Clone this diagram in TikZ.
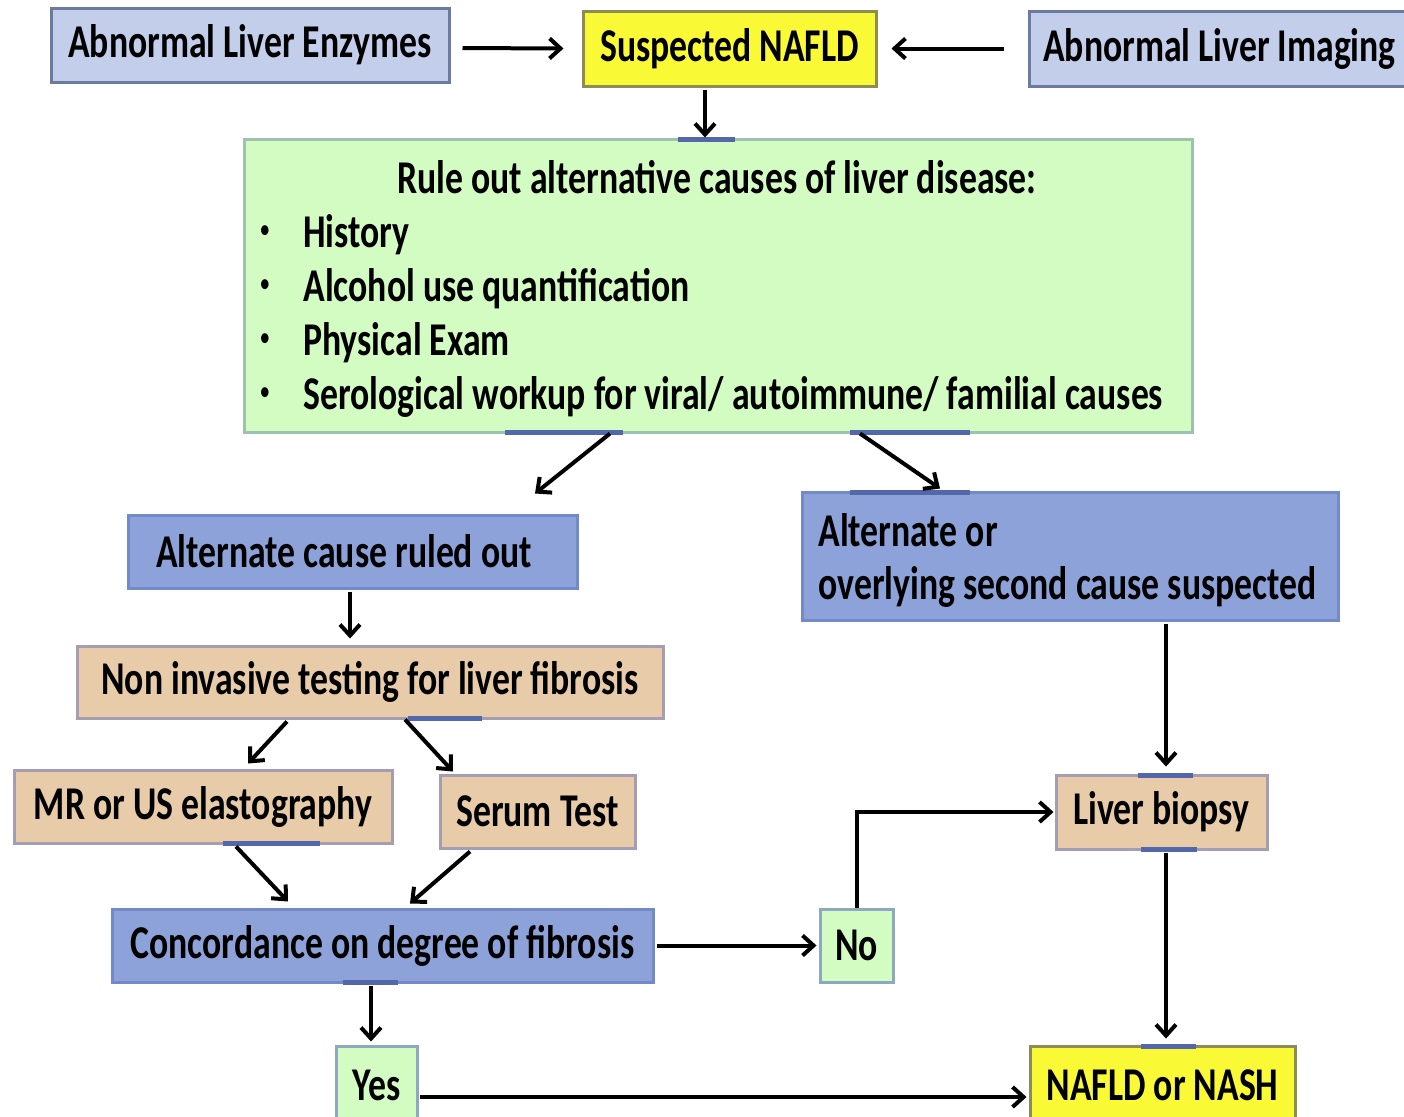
\documentclass[tikz,border=0pt]{standalone}
\usepackage{fontspec}
\setmainfont[FakeStretch=0.76]{Carlito}
\usetikzlibrary{arrows.meta,calc}
\definecolor{lbfill}{HTML}{C3CEEB}
\definecolor{lbdraw}{HTML}{6B7AA1}
\definecolor{yfill}{HTML}{F9F935}
\definecolor{ydraw}{HTML}{8C8C55}
\definecolor{gfill}{HTML}{D3FCC2}
\definecolor{gdraw}{HTML}{9DC2AE}
\definecolor{mbfill}{HTML}{8DA2D9}
\definecolor{mbdraw}{HTML}{7489C8}
\definecolor{tfill}{HTML}{E8CBA8}
\definecolor{tdraw}{HTML}{A59DB2}
\definecolor{ndraw}{HTML}{8FA8C2}
\definecolor{markblue}{HTML}{5367AA}
\begin{document}
\begin{tikzpicture}[x=0.5pt,y=-0.5pt,
  txt/.style={font=\fontsize{23.5}{28}\selectfont\bfseries, text=black},
  box/.style={draw, line width=1.5pt, inner sep=0pt, txt},
  lightblue/.style={box, fill=lbfill, draw=lbdraw},
  yellowbox/.style={box, fill=yfill, draw=ydraw},
  greenbox/.style={box, fill=gfill, draw=gdraw},
  smallgreen/.style={box, fill=gfill, draw=ndraw},
  bluebox/.style={box, fill=mbfill, draw=mbdraw},
  tanbox/.style={box, fill=tfill, draw=tdraw},
  plain/.style={txt, inner sep=0pt},
  bulletsty/.style={plain, font=\fontsize{14}{15}\selectfont},
  arr/.style={line width=2pt, black, -{Straight Barb[length=5.5pt,width=10pt,line width=2pt]}},
  mk/.style={line width=2.5pt, markblue}
]
\useasboundingbox (0,0) rectangle (1404,1116);
\clip (0,0) rectangle (1404,1116);
\fill[white] (0,0) rectangle (1404,1116);

% nodes
\node[lightblue, minimum width=199pt, minimum height=37pt] (enz) at (250,45) {Abnormal Liver Enzymes};
\node[yellowbox, minimum width=146.5pt, minimum height=37.5pt] (nafld) at (729.5,48.5) {Suspected NAFLD};
\node[lightblue, minimum width=190.5pt, minimum height=37.5pt] (img) at (1219.5,48.5) {Abnormal Liver Imaging};

\node[greenbox, minimum width=474pt, minimum height=146.5pt] (rule) at (718,285.5) {};
\node[plain, anchor=base] (ruletitle) at (717,193) {Rule out alternative causes of liver disease:};
\node[bulletsty] (bu1) at (265,232) {\textbullet};
\node[bulletsty] (bu2) at (265,286) {\textbullet};
\node[bulletsty] (bu3) at (265,340) {\textbullet};
\node[bulletsty] (bu4) at (265,394) {\textbullet};
\node[plain, anchor=base west] (l1) at (303,247) {History};
\node[plain, anchor=base west] (l2) at (303,301) {Alcohol use quantification};
\node[plain, anchor=base west] (l3) at (303,355) {Physical Exam};
\node[plain, anchor=base west] (l4) at (303,409) {Serological workup for viral/ autoimmune/ familial causes};

\node[bluebox, minimum width=224.5pt, minimum height=36.5pt] (ruled) at (352.5,551.5) {};
\node[plain] (ruledtxt) at (344,551.5) {Alternate cause ruled out};
\node[bluebox, minimum width=268pt, minimum height=64pt] (over) at (1070,556) {};
\node[plain, anchor=base west] (o1) at (818,546) {Alternate or};
\node[plain, anchor=base west] (o2) at (818,599) {overlying second cause suspected};

\node[tanbox, minimum width=293pt, minimum height=36pt] (nit) at (370,682) {Non invasive testing for liver fibrosis};
\node[tanbox, minimum width=189pt, minimum height=36.5pt] (mr) at (203,806.5) {MR or US elastography};
\node[tanbox, minimum width=97.5pt, minimum height=36.5pt] (serum) at (537.5,811.5) {Serum Test};
\node[bluebox, minimum width=270.5pt, minimum height=36.5pt] (conc) at (382.5,945.5) {Concordance on degree of fibrosis};
\node[smallgreen, minimum width=36.5pt, minimum height=36.5pt] (no) at (856.5,945.5) {No};
\node[tanbox, minimum width=105.5pt, minimum height=37pt] (bio) at (1161.5,812) {Liver biopsy};
\node[smallgreen, minimum width=40.5pt, minimum height=39pt] (yes) at (376.5,1085) {Yes};
\node[yellowbox, minimum width=132.5pt, minimum height=39pt] (nash) at (1162.5,1085) {NAFLD or NASH};

% blue marks on borders
\draw[mk] (678,139) -- (735,139);
\draw[mk] (505,432) -- (623,432);
\draw[mk] (850,432) -- (970,432);
\draw[mk] (850,492) -- (970,492);
\draw[mk] (408,718) -- (482,718);
\draw[mk] (223,843) -- (320,843);
\draw[mk] (343,982) -- (398,982);
\draw[mk] (1138,775) -- (1193,775);
\draw[mk] (1141,849) -- (1197,849);
\draw[mk] (1141,1046) -- (1196,1046);

% connectors
\draw[arr] ($(enz.east)+(12,3)$) -- ($(nafld.west)+(-18,0)$);
\draw[arr] ($(img.west)+(-24,0)$) -- ($(nafld.east)+(14,0)$);
\coordinate (c1) at ($(nafld.south)+(-24.5,2)$);
\draw[arr] (c1) -- (c1 |- rule.north);
\draw[arr] ($(rule.south)+(-108,0)$) -- ($(ruled.north)+(182.5,-20)$);
\draw[arr] ($(rule.south)+(142,0)$) -- ($(over.north)+(-130,-2)$);
\coordinate (c2) at ($(ruled.south)+(-2.5,2)$);
\draw[arr] (c2) -- ($(c2 |- nit.north)+(0,-6)$);
\draw[arr] ($(nit.south)+(-83,2)$) -- ($(mr.north)+(45,-5)$);
\draw[arr] ($(nit.south)+(35,0)$) -- ($(serum.north)+(-84.5,-2)$);
\draw[arr] ($(mr.south)+(33,2)$) -- ($(conc.north)+(-94.5,-6)$);
\draw[arr] ($(serum.south)+(-67.5,2)$) -- ($(conc.north)+(27.5,-4)$);
\draw[arr] ($(conc.east)+(2,0)$) -- ($(no.west)+(-2,0)$);
\coordinate (c3) at ($(conc.south)+(-11.5,2)$);
\draw[arr] (c3) -- ($(c3 |- yes.north)+(0,-3)$);
\draw[arr] (no.north) |- ($(bio.west)+(-1,0)$);
\coordinate (c4) at ($(over.south)+(96,2)$);
\draw[arr] (c4) -- ($(c4 |- bio.north)+(0,-7)$);
\coordinate (c5) at ($(bio.south)+(4.5,2)$);
\draw[arr] (c5) -- ($(c5 |- nash.north)+(0,-6)$);
\coordinate (c6) at ($(yes.east)+(1,12)$);
\draw[arr] (c6) -- ($(c6 -| nash.west)+(-2,0)$);
\end{tikzpicture}
\end{document}
